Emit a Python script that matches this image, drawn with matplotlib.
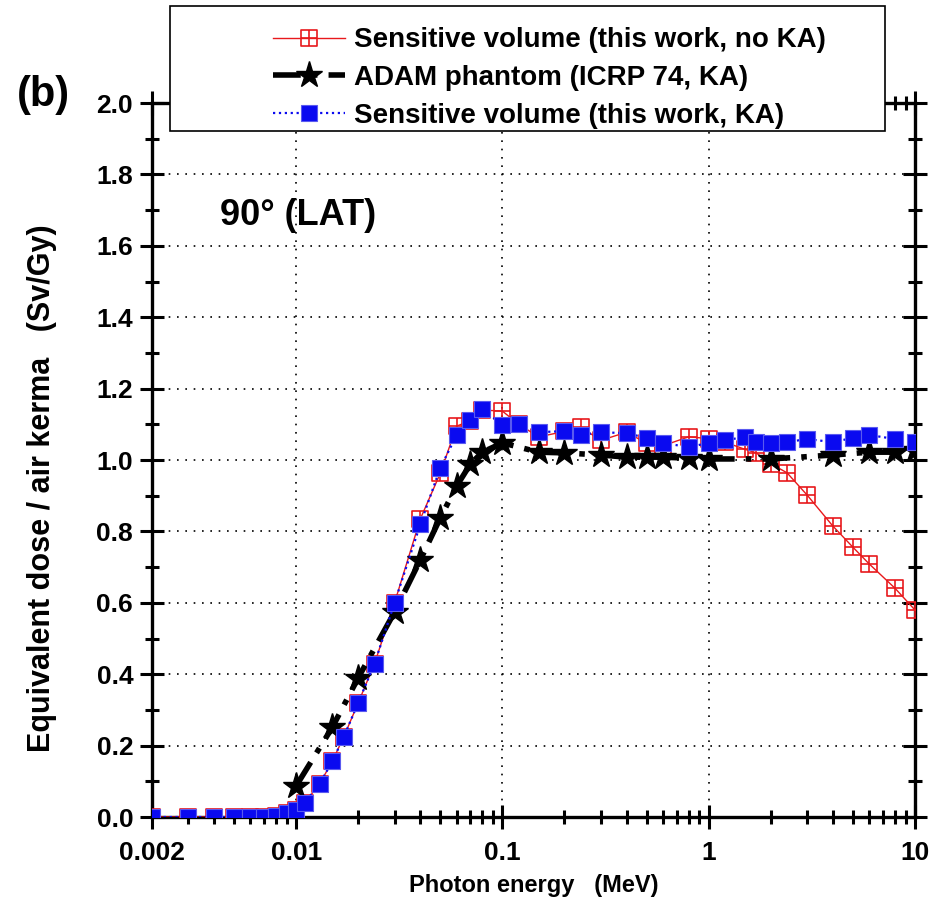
import numpy as np
import matplotlib
matplotlib.use("Agg")
import matplotlib.pyplot as plt
from matplotlib.path import Path
from matplotlib.patches import Rectangle
from matplotlib.ticker import FixedLocator, NullFormatter, FixedFormatter

plt.rcParams['font.family'] = ['Liberation Sans', 'DejaVu Sans']
plt.rcParams['font.weight'] = 'bold'

# --- data (photon energy in MeV, H/Ka in Sv/Gy) ---
e_sv = [0.002, 0.003, 0.004, 0.005, 0.006, 0.007, 0.008, 0.009, 0.01, 0.011,
        0.013, 0.015, 0.017, 0.02, 0.024, 0.03, 0.04, 0.05, 0.06, 0.07, 0.08,
        0.1, 0.12, 0.15, 0.2, 0.24, 0.3, 0.4, 0.5, 0.6, 0.8, 1.0, 1.2, 1.5,
        1.7, 2.0, 2.4, 3.0, 4.0, 5.0, 6.0, 8.0, 10.0]
h_noka = [0.0, 0.0, 0.0, 0.0, 0.0, 0.0, 0.003, 0.011, 0.02, 0.04,
          0.093, 0.157, 0.224, 0.32, 0.43, 0.60, 0.835, 0.963, 1.095, 1.11, 1.14,
          1.137, 1.10, 1.065, 1.08, 1.092, 1.055, 1.078, 1.047, 1.04, 1.065, 1.06, 1.05, 1.03,
          1.02, 0.99, 0.964, 0.902, 0.815, 0.756, 0.709, 0.641, 0.58]
h_ka = [0.0, 0.0, 0.0, 0.0, 0.0, 0.0, 0.003, 0.011, 0.02, 0.04,
        0.093, 0.157, 0.224, 0.32, 0.43, 0.60, 0.82, 0.978, 1.07, 1.112, 1.143,
        1.098, 1.10, 1.078, 1.081, 1.07, 1.078, 1.075, 1.062, 1.048, 1.036, 1.048, 1.056, 1.064,
        1.05, 1.048, 1.05, 1.059, 1.05, 1.062, 1.07, 1.059, 1.05]

e_adam = [0.01, 0.015, 0.02, 0.03, 0.04, 0.05, 0.06, 0.07, 0.08, 0.1, 0.15, 0.2,
          0.3, 0.4, 0.5, 0.6, 0.8, 1.0, 2.0, 4.0, 6.0, 8.0, 10.0]
h_adam = [0.087, 0.252, 0.39, 0.574, 0.72, 0.838, 0.927, 0.989, 1.022, 1.048, 1.022, 1.02,
          1.014, 1.008, 1.008, 1.008, 1.005, 1.003, 1.003, 1.014, 1.022, 1.022, 1.028]

x_ticks = [0.002, 0.01, 0.1, 1, 10]
x_ticklabels = ['0.002', '0.01', '0.1', '1', '10']

# square with a cross inside (open marker)
box_cross = Path([(-1, -1), (1, -1), (1, 1), (-1, 1), (-1, -1),
                  (0, -1), (0, 1), (-1, 0), (1, 0)],
                 [Path.MOVETO, Path.LINETO, Path.LINETO, Path.LINETO, Path.CLOSEPOLY,
                  Path.MOVETO, Path.LINETO, Path.MOVETO, Path.LINETO])

fig = plt.figure(figsize=(9.45, 9.07), dpi=100)
ax = fig.add_axes([0.1608, 0.0992, 0.8074, 0.7872])

l1, = ax.plot(e_sv, h_noka, color='#e8191c', lw=1.0, marker=box_cross, ms=11,
              mfc='none', mec='#e8191c', mew=1.2, zorder=3,
              label='Sensitive volume (this work, no KA)')
l2, = ax.plot(e_adam, h_adam, color='black', lw=4, dashes=(5, 2, 1, 2),
              marker='*', ms=20, mfc='black', mec='black', zorder=4,
              label='ADAM phantom (ICRP 74, KA)')
l3, = ax.plot(e_sv, h_ka, color='#0a0af0', lw=1.6, ls=':', marker='s', ms=11,
              mfc='#0a0af0', mec='#5a5af0', mew=0.8, zorder=5,
              label='Sensitive volume (this work, KA)')

ax.set_xscale('log')
ax.set_xlim(0.002, 10)
ax.set_ylim(0, 2.0)

ax.xaxis.set_major_locator(FixedLocator(x_ticks))
ax.xaxis.set_major_formatter(FixedFormatter(x_ticklabels))
minor = [m * d for d in [0.001, 0.01, 0.1, 1] for m in range(2, 10) if 0.002 < m * d < 10]
ax.xaxis.set_minor_locator(FixedLocator(minor))
ax.xaxis.set_minor_formatter(NullFormatter())
ax.set_yticks(np.arange(0, 2.01, 0.2))
ax.set_yticks(np.arange(0.1, 2.0, 0.2), minor=True)
ax.yaxis.set_major_formatter(matplotlib.ticker.FormatStrFormatter('%.1f'))

for s in ax.spines.values():
    s.set_linewidth(2.4)

ax.tick_params(axis='both', which='major', direction='inout', length=17, width=2.2,
               labelsize=19, pad=5)
ax.tick_params(axis='both', which='minor', direction='inout', length=10, width=2.2)
ax.tick_params(top=True, right=True, which='both')
ax.tick_params(axis='x', which='major', pad=9)

ax.grid(True, which='major', color='black', ls=(0, (1, 4)), lw=1.2)

ax.set_xlabel('Photon energy   (MeV)', fontsize=17, fontweight='bold', labelpad=6)
ax.set_ylabel('Equivalent dose / air kerma   (Sv/Gy)', fontsize=22,
              fontweight='bold', labelpad=8)
ax.yaxis.set_label_coords(-0.125, 0.46)

ax.text(0.089, 0.843, '90° (LAT)', transform=ax.transAxes, fontsize=26,
        fontweight='bold', va='center', ha='left')
fig.text(0.018, 0.895, '(b)', fontsize=30, fontweight='bold', va='center', ha='left')

# legend box sitting on top of the axes
fig.add_artist(Rectangle((170 / 945, 1 - 131 / 907), (885 - 170) / 945, (131 - 6) / 907,
                         transform=fig.transFigure, facecolor='white',
                         edgecolor='black', lw=1.2, zorder=6))
leg = fig.legend(handles=[l1, l2, l3], loc='center left',
                 bbox_to_anchor=(262 / 945, 1 - 78 / 907), frameon=False,
                 fontsize=20, handlelength=2.6, handletextpad=0.3,
                 labelspacing=0.42, borderaxespad=0)
leg.set_zorder(7)

fig.savefig('out.png', dpi=100)
